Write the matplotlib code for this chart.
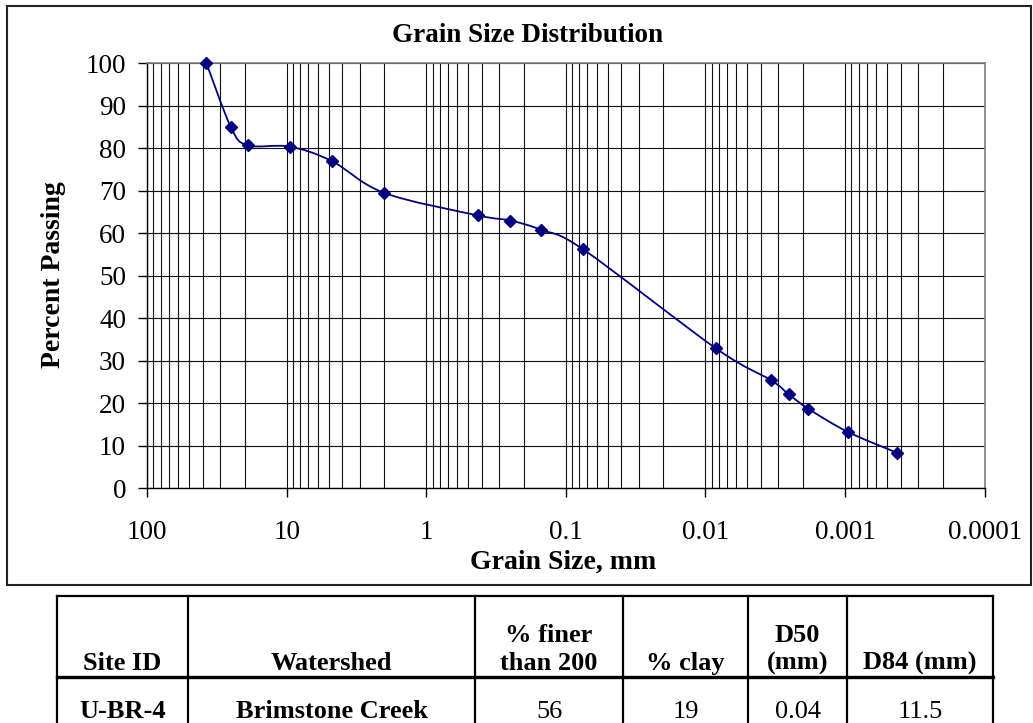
import numpy as np
import matplotlib
matplotlib.use('Agg')
import matplotlib.pyplot as plt
from matplotlib.path import Path
from matplotlib.patches import PathPatch, Rectangle
from matplotlib.lines import Line2D
from matplotlib.ticker import LogLocator, NullFormatter

# grain size curve
grain_size_mm = [37.5, 25, 19, 9.5, 4.75, 2.0, 0.425, 0.25, 0.15, 0.075,
                 0.0084, 0.0034, 0.00253, 0.00183, 0.00096, 0.000424]
percent_passing = [100, 84.9, 80.7, 80.4, 77.0, 69.5, 64.2, 63.0, 60.8, 56.2,
                   32.9, 25.45, 22.1, 18.7, 13.3, 8.35]

x_ticks = [100, 10, 1, 0.1, 0.01, 0.001, 0.0001]
x_tick_labels = ['100', '10', '1', '0.1', '0.01', '0.001', '0.0001']
y_ticks = [0, 10, 20, 30, 40, 50, 60, 70, 80, 90, 100]

# summary table under the chart
table_header = ['Site ID', 'Watershed', '% finer\nthan 200', '% clay', 'D50\n(mm)', 'D84 (mm)']
table_row = ['U-BR-4', 'Brimstone Creek', '56', '19', '0.04', '11.5']
row_bold = [True, True, False, False, False, False]

W, H = 1033, 723
plt.rcParams['font.family'] = ['Liberation Serif', 'DejaVu Serif']
fig = plt.figure(figsize=(W / 100, H / 100), dpi=100)


def fx(px):
    return px / W


def fy(py):
    return 1 - py / H


navy = '#000080'
ax = fig.add_axes([fx(147), fy(488.3), fx(984.7) - fx(147), fy(63.3) - fy(488.3)])
ax.set_xscale('log')
ax.set_xlim(100, 0.0001)
ax.set_ylim(0, 100)
ax.set_xticks(x_ticks, x_tick_labels)
ax.set_yticks(y_ticks)
ax.xaxis.set_minor_locator(LogLocator(base=10, subs=range(2, 10), numticks=20))
ax.xaxis.set_minor_formatter(NullFormatter())
ax.tick_params(axis='x', which='major', direction='out', length=6.5, width=1,
               pad=16, labelsize=19.5)
ax.tick_params(axis='x', which='minor', length=0)
ax.tick_params(axis='y', which='major', direction='out', length=6.5, width=1,
               pad=8.6, labelsize=19.5)
ax.grid(axis='x', which='both', color='#111111', lw=0.8)
ax.grid(axis='y', which='major', color='#111111', lw=0.8)
ax.set_axisbelow(True)
for s in ['top', 'right']:
    ax.spines[s].set_color('#808080')
    ax.spines[s].set_linewidth(1.2)
for s in ['left', 'bottom']:
    ax.spines[s].set_color('black')
    ax.spines[s].set_linewidth(1)

# smoothed line (Bezier through the points in log-x space, like Excel)
pts = np.column_stack([np.log10(grain_size_mm), percent_passing])
n = len(pts)
verts = [pts[0]]
codes = [Path.MOVETO]
for i in range(n - 1):
    p0 = pts[max(i - 1, 0)]
    p1 = pts[i]
    p2 = pts[i + 1]
    p3 = pts[min(i + 2, n - 1)]
    verts += [p1 + (p2 - p0) / 6, p2 - (p3 - p1) / 6, p2]
    codes += [Path.CURVE4] * 3
verts = np.array(verts)
verts[:, 0] = 10 ** verts[:, 0]
ax.add_patch(PathPatch(Path(verts, codes), fill=False, edgecolor=navy, lw=1.3,
                       transform=ax.transData, zorder=3))
ax.plot(grain_size_mm, percent_passing, linestyle='none', marker='D', ms=6.5,
        color=navy, clip_on=False, zorder=4)

# labels
fig.text(fx(527), fy(42.5), 'Grain Size Distribution', ha='center', va='baseline',
         fontsize=19.5, fontweight='bold')
fig.text(fx(563), fy(569), 'Grain Size, mm', ha='center', va='baseline',
         fontsize=20, fontweight='bold')
fig.text(fx(54), fy(275), 'Percent Passing', ha='center', va='center',
         rotation=90, fontsize=20, fontweight='bold')

# chart frame
fig.add_artist(Rectangle((fx(7), fy(585)), fx(1031) - fx(7), fy(6) - fy(585),
                         transform=fig.transFigure, fill=False, lw=1.5, ec='#222222'))

# table
col_edges = [57, 188, 475, 623, 748, 847, 993]
t_top, t_sep, t_bot = 596, 677, 726
lw_t = 1.6
fig.add_artist(Line2D([fx(col_edges[0]), fx(col_edges[-1])], [fy(t_top)] * 2,
                      transform=fig.transFigure, color='black', lw=lw_t))
fig.add_artist(Line2D([fx(col_edges[0]), fx(col_edges[-1])], [fy(t_sep)] * 2,
                      transform=fig.transFigure, color='black', lw=2.4))
for e in col_edges:
    fig.add_artist(Line2D([fx(e)] * 2, [fy(t_top), fy(t_bot)],
                          transform=fig.transFigure, color='black', lw=lw_t))

for i, (hdr, val) in enumerate(zip(table_header, table_row)):
    cx = fx((col_edges[i] + col_edges[i + 1]) / 2)
    lines = hdr.split('\n')
    for k, line in enumerate(reversed(lines)):
        fig.text(cx, fy(670 - 28 * k), line, ha='center', va='baseline',
                 fontsize=19, fontweight='bold')
    fig.text(cx, fy(718), val, ha='center', va='baseline', fontsize=19,
             fontweight='bold' if row_bold[i] else 'normal')

fig.savefig('out.png', dpi=100)
